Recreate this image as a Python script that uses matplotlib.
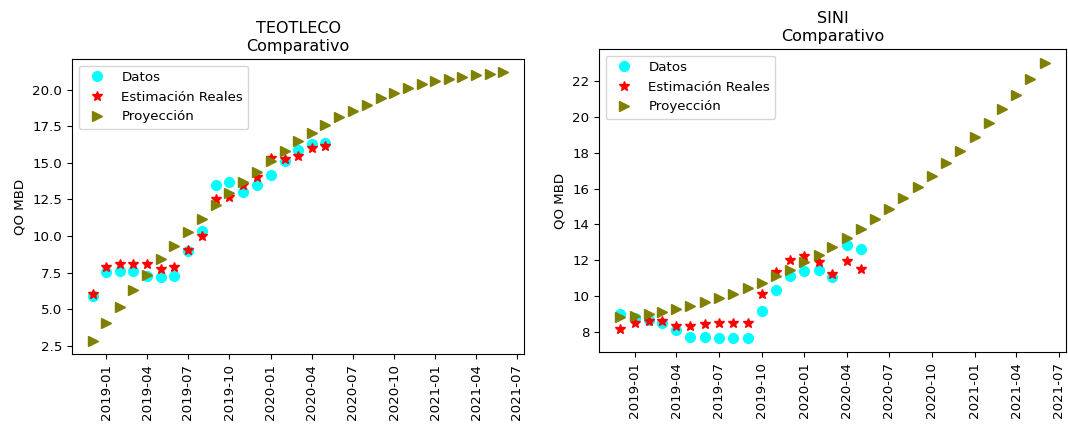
import numpy as np
import pandas as pd
import matplotlib
matplotlib.use("Agg")
import matplotlib.pyplot as plt
import matplotlib.dates as mdates

# ---- data ----
data_dates = pd.date_range("2018-12-01", periods=18, freq="MS")
proj_dates = pd.date_range("2018-12-01", periods=31, freq="MS")

teo_datos = [5.91, 7.57, 7.64, 7.64, 7.27, 7.18, 7.27, 8.95, 10.36, 13.48, 13.66, 13.02,
             13.48, 14.20, 15.16, 15.91, 16.27, 16.36]
teo_estim = [6.02, 7.86, 8.07, 8.07, 8.07, 7.77, 7.86, 9.05, 9.98, 12.50, 12.68, 13.48,
             14.05, 15.30, 15.25, 15.45, 16.00, 16.18]
teo_proy = [2.86, 4.05, 5.16, 6.30, 7.34, 8.41, 9.32, 10.25, 11.18, 12.11, 12.91, 13.66,
            14.39, 15.16, 15.82, 16.48, 17.02, 17.57, 18.14, 18.57, 18.98, 19.41, 19.80,
            20.09, 20.39, 20.59, 20.73, 20.86, 21.00, 21.09, 21.18]

sini_datos = [8.99, 8.74, 8.65, 8.47, 8.09, 7.72, 7.72, 7.63, 7.63, 7.63, 9.17, 10.33,
              11.11, 11.37, 11.45, 11.04, 12.82, 12.60]
sini_estim = [8.17, 8.50, 8.61, 8.60, 8.34, 8.34, 8.43, 8.50, 8.50, 8.50, 10.10, 11.31,
              12.00, 12.23, 11.91, 11.20, 11.93, 11.52]
sini_proy = [8.84, 8.89, 8.97, 9.12, 9.28, 9.43, 9.64, 9.90, 10.10, 10.42, 10.74, 11.11,
             11.45, 11.91, 12.28, 12.75, 13.21, 13.74, 14.29, 14.83, 15.45, 16.10, 16.72,
             17.40, 18.11, 18.89, 19.68, 20.44, 21.22, 22.10, 23.03]

titles = ["TEOTLECO\nComparativo", "SINI\nComparativo"]
labels = ["Datos", "Estimación Reales", "Proyección"]

plt.rcParams['font.size'] = 9.6
fig = plt.figure(figsize=(10.68, 4.26), dpi=100)
ax1 = fig.add_axes([72/1068, 72/426, 452/1068, 295/426])
ax2 = fig.add_axes([599/1068, 74/426, 467/1068, 303/426])

for ax, title, d, e, p in [(ax1, titles[0], teo_datos, teo_estim, teo_proy),
                           (ax2, titles[1], sini_datos, sini_estim, sini_proy)]:
    ax.plot(data_dates, d, 'o', color='cyan', markersize=7, label=labels[0])
    ax.plot(data_dates, e, '*', color='red', markersize=7, label=labels[1])
    ax.plot(proj_dates, p, '>', color='olive', markersize=6.5, label=labels[2])
    ax.set_title(title, fontsize=11.5)
    ax.set_ylabel("QO MBD")
    ax.xaxis.set_major_locator(mdates.MonthLocator(bymonth=[1, 4, 7, 10]))
    ax.xaxis.set_major_formatter(mdates.DateFormatter('%Y-%m'))
    for lab in ax.get_xticklabels():
        lab.set_rotation(90)
    ax.legend(loc='upper left')

fig.savefig("out.png", dpi=100)
